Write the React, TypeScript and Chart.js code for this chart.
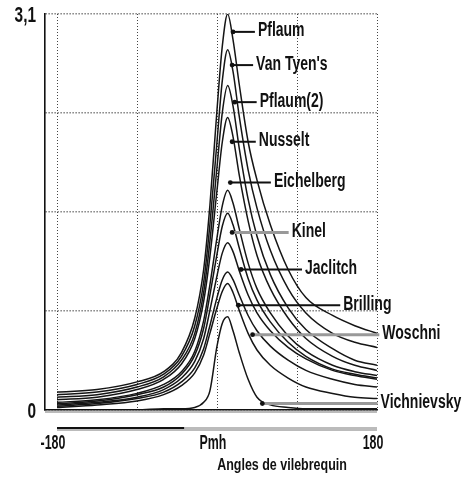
import React, { useEffect, useRef } from "react";
import { Chart, registerables } from "chart.js";

Chart.register(...registerables);

// crank angle (degrees)
const angles = [-180, -135, -90, -60, -40, -25, -15, -8, 0, 6, 12, 18, 25, 35, 45, 60, 80, 100, 130, 155, 180];

const seriesNames = ["Pflaum", "Van Tyen's", "Pflaum(2)", "Nusselt", "Eichelberg", "Kinel", "Jaclitch", "Brilling", "Woschni", "Vichnievsky"];

const pflaum = [0.14, 0.16, 0.22, 0.3, 0.45, 0.72, 1.1, 1.6, 2.35, 2.85, 3.1, 2.9, 2.55, 2.1, 1.8, 1.45, 1.1, 0.88, 0.74, 0.66, 0.6];
const vanTyens = [0.12, 0.14, 0.2, 0.28, 0.42, 0.66, 1.0, 1.45, 2.1, 2.58, 2.82, 2.65, 2.3, 1.88, 1.58, 1.25, 0.95, 0.76, 0.6, 0.53, 0.49];
const pflaum2 = [0.1, 0.12, 0.18, 0.26, 0.39, 0.6, 0.92, 1.32, 1.9, 2.33, 2.54, 2.38, 2.05, 1.65, 1.36, 1.06, 0.8, 0.63, 0.48, 0.39, 0.35];
const nusselt = [0.08, 0.1, 0.16, 0.24, 0.36, 0.56, 0.85, 1.2, 1.72, 2.1, 2.29, 2.14, 1.84, 1.48, 1.21, 0.95, 0.72, 0.56, 0.42, 0.35, 0.31];
const eichelberg = [0.06, 0.08, 0.13, 0.2, 0.3, 0.46, 0.7, 0.98, 1.35, 1.6, 1.72, 1.62, 1.42, 1.15, 0.95, 0.76, 0.58, 0.46, 0.35, 0.3, 0.27];
const kinel = [0.05, 0.07, 0.12, 0.18, 0.28, 0.43, 0.64, 0.9, 1.22, 1.44, 1.54, 1.45, 1.27, 1.03, 0.86, 0.69, 0.53, 0.42, 0.32, 0.28, 0.25];
const jaclitch = [0.04, 0.06, 0.1, 0.16, 0.25, 0.38, 0.56, 0.78, 1.05, 1.23, 1.31, 1.24, 1.09, 0.9, 0.76, 0.62, 0.49, 0.4, 0.31, 0.27, 0.24];
const brilling = [0.03, 0.05, 0.09, 0.14, 0.22, 0.33, 0.48, 0.66, 0.88, 1.02, 1.08, 1.02, 0.9, 0.74, 0.62, 0.5, 0.39, 0.31, 0.24, 0.2, 0.18];
const woschni = [0.02, 0.04, 0.07, 0.12, 0.19, 0.29, 0.43, 0.6, 0.8, 0.93, 0.99, 0.92, 0.78, 0.6, 0.47, 0.35, 0.25, 0.18, 0.13, 0.1, 0.09];
const vichnievsky = [0, 0, 0, 0.01, 0.01, 0.02, 0.06, 0.15, 0.5, 0.68, 0.73, 0.62, 0.45, 0.24, 0.1, 0.04, 0.02, 0.01, 0.01, 0.01, 0.01];

const seriesValues = [pflaum, vanTyens, pflaum2, nusselt, eichelberg, kinel, jaclitch, brilling, woschni, vichnievsky];

const xTickValues = [-180, -90, 0, 90, 180];
const xTickLabels = ["-180", "", "Pmh", "", "180"];
const yTickValues = [0, 0.775, 1.55, 2.325, 3.1];
const yTickLabels = ["0", "", "", "", "3,1"];
const xAxisTitle = "Angles de vilebrequin";

// label placement in data units: [leader start angle, label angle, label value, leader grey?]
const labelAnchors: [number, number, number, boolean][] = [
  [18, 46, 2.96, false],
  [17, 44, 2.70, false],
  [20, 48, 2.41, false],
  [17, 47, 2.10, false],
  [15, 64, 1.78, false],
  [17, 84, 1.39, true],
  [27, 99, 1.10, false],
  [24, 142, 0.82, false],
  [40, 186, 0.59, true],
  [51, 184, 0.05, true],
];

const FONT = '"Liberation Sans", Arial, sans-serif';

function drawText(ctx: CanvasRenderingContext2D, text: string, x: number, y: number, size: number, sx: number, align: CanvasTextAlign) {
  ctx.save();
  ctx.font = `bold ${size}px ${FONT}`;
  ctx.fillStyle = "#111";
  ctx.textBaseline = "middle";
  ctx.textAlign = align;
  ctx.translate(x, y);
  ctx.scale(sx, 1);
  ctx.fillText(text, 0, 0);
  ctx.restore();
}

const overlayPlugin = {
  id: "overlay",
  afterDraw(chart: any) {
    const ctx: CanvasRenderingContext2D = chart.ctx;
    const xs = chart.scales.x;
    const ys = chart.scales.y;
    const area = chart.chartArea;

    // lower bands under the axis
    ctx.save();
    ctx.strokeStyle = "#bbb";
    ctx.lineWidth = 2;
    ctx.beginPath();
    ctx.moveTo(area.left, area.bottom + 2);
    ctx.lineTo(xs.getPixelForValue(180), area.bottom + 2);
    ctx.stroke();
    ctx.lineWidth = 4;
    ctx.beginPath();
    ctx.moveTo(xs.getPixelForValue(-180), area.bottom + 19);
    ctx.lineTo(xs.getPixelForValue(180), area.bottom + 19);
    ctx.stroke();
    ctx.strokeStyle = "#111";
    ctx.lineWidth = 2;
    ctx.beginPath();
    ctx.moveTo(xs.getPixelForValue(-180), area.bottom + 18);
    ctx.lineTo(xs.getPixelForValue(-37), area.bottom + 18);
    ctx.stroke();
    ctx.restore();

    // leaders and labels
    labelAnchors.forEach(([a0, a1, v, grey], i) => {
      const x0 = xs.getPixelForValue(a0);
      const x1 = xs.getPixelForValue(a1);
      const y = ys.getPixelForValue(v);
      ctx.save();
      ctx.strokeStyle = grey ? "#999" : "#111";
      ctx.lineWidth = grey ? 3 : 2;
      ctx.beginPath();
      ctx.moveTo(x0, y);
      ctx.lineTo(x1 - 3, y);
      ctx.stroke();
      ctx.fillStyle = "#111";
      ctx.beginPath();
      ctx.arc(x0, y, 2.4, 0, Math.PI * 2);
      ctx.fill();
      ctx.restore();
      drawText(ctx, seriesNames[i], x1, y - 1, 20, 0.7, "left");
    });

    // tick labels
    xTickValues.forEach((v, i) => {
      if (!xTickLabels[i]) return;
      drawText(ctx, xTickLabels[i], xs.getPixelForValue(v) - 4, area.bottom + 33, 20, 0.62, "center");
    });
    yTickValues.forEach((v, i) => {
      if (!yTickLabels[i]) return;
      drawText(ctx, yTickLabels[i], area.left - 9, ys.getPixelForValue(v) + 2, 22, 0.7, "right");
    });
    drawText(ctx, xAxisTitle, 282, area.bottom + 56, 16, 0.78, "center");
  },
};

export default function App() {
  const ref = useRef<HTMLCanvasElement | null>(null);
  useEffect(() => {
    if (!ref.current) return;
    const datasets = seriesNames.map((name, i) => ({
      label: name,
      data: angles.map((a, j) => ({ x: a, y: seriesValues[i][j] })),
      borderColor: "#151515",
      borderWidth: 1.5,
      pointRadius: 0,
      fill: false,
      cubicInterpolationMode: "monotone" as const,
    }));
    const chart = new Chart(ref.current, {
      type: "line",
      data: { datasets },
      plugins: [overlayPlugin],
      options: {
        animation: false,
        responsive: false,
        devicePixelRatio: 1,
        layout: { padding: { left: 45, right: 85, top: 14, bottom: 76 } },
        plugins: { legend: { display: false }, tooltip: { enabled: false }, title: { display: false } },
        scales: {
          x: {
            type: "linear",
            min: -193.5,
            max: 180,
            afterBuildTicks: (s: any) => { s.ticks = xTickValues.map((v) => ({ value: v })); },
            afterFit: (s: any) => { s.height = 0; },
            ticks: { display: false },
            grid: { color: "#444", lineWidth: 1, drawTicks: false },
            border: { display: true, color: "#111", width: 1.6, dash: [1, 2] },
          },
          y: {
            type: "linear",
            min: 0,
            max: 3.1,
            afterBuildTicks: (s: any) => { s.ticks = yTickValues.map((v) => ({ value: v })); },
            afterFit: (s: any) => { s.width = 0; },
            ticks: { display: false },
            grid: { color: "#444", lineWidth: 1.6, drawTicks: false },
            border: { display: true, color: "#111", width: 1.6, dash: [1, 2] },
          },
        },
      },
    });
    return () => chart.destroy();
  }, []);
  return (
    <canvas
      ref={ref}
      width={462}
      height={486}
      style={{ position: "absolute", left: 0, top: 0, width: 462, height: 486, background: "#fff" }}
    />
  );
}
